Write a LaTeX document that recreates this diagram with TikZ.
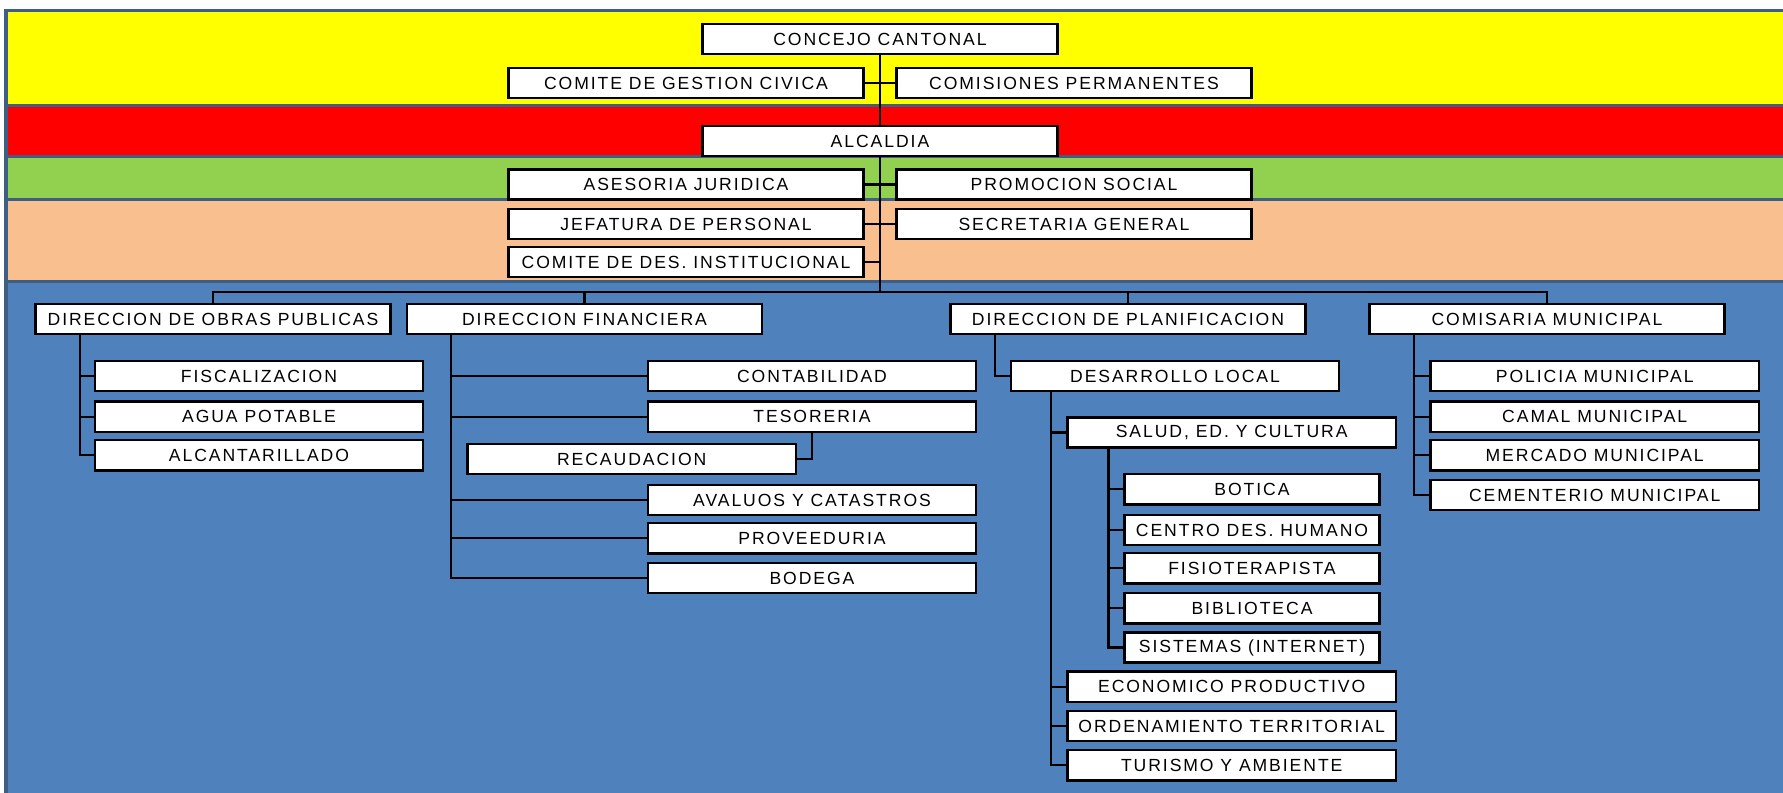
\documentclass[tikz,border=0pt]{standalone}
\usepackage{fontspec}
\setmainfont{Liberation Sans}
\newfontfamily\rotulo{Liberation Sans}[LetterSpace=11]
\usetikzlibrary{positioning}
\definecolor{amarillo}{RGB}{255,255,0}
\definecolor{rojo}{RGB}{255,0,0}
\definecolor{verde}{RGB}{146,208,80}
\definecolor{durazno}{RGB}{250,191,143}
\definecolor{azul}{RGB}{79,129,189}
\definecolor{borde}{RGB}{62,94,132}

\begin{document}
\begin{tikzpicture}[x=0.025cm,y=-0.025cm,
    unidad/.style={draw,fill=white,line width=0.06cm,minimum height=0.75cm,inner sep=0pt,
      font=\rotulo\fontsize{12.5}{14}\selectfont},
    grande/.style={minimum width=8.875cm},
    media/.style={minimum width=8.2cm},
    chica/.style={minimum width=6.375cm},
    linea/.style={line width=0.055cm},
    franja/.style={draw=borde,line width=0.075cm}]
    \useasboundingbox (0,0) rectangle (1783,793);
    % franjas de fondo
    \filldraw[franja,fill=amarillo] (6,10.5) rectangle (1790,105.7);
    \filldraw[franja,fill=rojo] (6,105.7) rectangle (1790,156.7);
    \filldraw[franja,fill=verde] (6,156.7) rectangle (1790,199.7);
    \filldraw[franja,fill=durazno] (6,199.7) rectangle (1790,281.7);
    \filldraw[franja,fill=azul] (6,281.7) rectangle (1790,800);
    % nivel superior
    \node[unidad,grande] (concejo) at (880,39) {CONCEJO CANTONAL};
    \node[unidad,grande] (gestion) at (686,83) {COMITE DE GESTION CIVICA};
    \node[unidad,grande] (comisiones) at (1074,83) {COMISIONES PERMANENTES};
    \node[unidad,grande] (alcaldia) at (880,141) {ALCALDIA};
    \node[unidad,grande] (asesoria) at (686,184.5) {ASESORIA JURIDICA};
    \node[unidad,grande] (promocion) at (1074,184.5) {PROMOCION SOCIAL};
    \node[unidad,grande] (jefatura) at (686,224) {JEFATURA DE PERSONAL};
    \node[unidad,grande] (secretaria) at (1074,224) {SECRETARIA GENERAL};
    \node[unidad,grande] (comitedes) at (686,262) {COMITE DE DES. INSTITUCIONAL};
    \coordinate (bus) at (880,292);
    \draw[linea] (concejo) -- (alcaldia);
    \draw[linea] (alcaldia.south) -- (bus);
    \draw[linea] (gestion) -- (comisiones);
    \draw[linea] (asesoria) -- (promocion);
    \draw[linea] (jefatura) -- (secretaria);
    \draw[linea] (comitedes.east) -- (comitedes.east -| bus);
    % direcciones
    \node[unidad,grande] (obras) at (213,319) {DIRECCION DE OBRAS PUBLICAS};
    \node[unidad,grande] (financiera) at (584.5,319) {DIRECCION FINANCIERA};
    \node[unidad,grande] (planificacion) at (1128,319) {DIRECCION DE PLANIFICACION};
    \node[unidad,grande] (comisaria) at (1547,319) {COMISARIA MUNICIPAL};
    \draw[linea] (obras.north) |- (bus) -| (comisaria.north);
    \draw[linea] (financiera.north) -- (financiera.north |- bus);
    \draw[linea] (planificacion.north) -- (planificacion.north |- bus);
    % obras publicas
    \node[unidad,media] (fiscalizacion) at (259,376) {FISCALIZACION};
    \node[unidad,media] (agua) at (259,416.7) {AGUA POTABLE};
    \node[unidad,media] (alcantarillado) at (259,455.3) {ALCANTARILLADO};
    \coordinate (eobras) at (80,0);
    \foreach \n in {fiscalizacion,agua,alcantarillado}
      \draw[linea] (obras.south -| eobras) |- (\n.west);
    % financiera
    \node[unidad,media] (contabilidad) at (812,376) {CONTABILIDAD};
    \node[unidad,media] (tesoreria) at (812,416.7) {TESORERIA};
    \node[unidad,media] (recaudacion) at (631.7,459) {RECAUDACION};
    \node[unidad,media] (avaluos) at (812,500) {AVALUOS Y CATASTROS};
    \node[unidad,media] (proveeduria) at (812,538.3) {PROVEEDURIA};
    \node[unidad,media] (bodega) at (812,578) {BODEGA};
    \coordinate (efin) at (451,0);
    \foreach \n in {contabilidad,tesoreria,avaluos,proveeduria,bodega}
      \draw[linea] (financiera.south -| efin) |- (\n.west);
    \draw[linea] (tesoreria.south) |- (recaudacion.east);
    % planificacion
    \node[unidad,media] (desarrollo) at (1175,376) {DESARROLLO LOCAL};
    \node[unidad,media] (salud) at (1231.7,432.5) {SALUD, ED. Y CULTURA};
    \node[unidad,chica] (botica) at (1252,489.3) {BOTICA};
    \node[unidad,chica] (centro) at (1252,530) {CENTRO DES. HUMANO};
    \node[unidad,chica] (fisio) at (1252,568.3) {FISIOTERAPISTA};
    \node[unidad,chica] (biblioteca) at (1252,608.3) {BIBLIOTECA};
    \node[unidad,chica] (sistemas) at (1252,647.5) {SISTEMAS (INTERNET)};
    \node[unidad,media] (economico) at (1231.7,686.7) {ECONOMICO PRODUCTIVO};
    \node[unidad,media] (ordenamiento) at (1231.7,726) {ORDENAMIENTO TERRITORIAL};
    \node[unidad,media] (turismo) at (1231.7,765.3) {TURISMO Y AMBIENTE};
    \coordinate (eplan) at (994.6,0);
    \coordinate (edes) at (1051,0);
    \coordinate (esal) at (1108.4,0);
    \draw[linea] (planificacion.south -| eplan) |- (desarrollo.west);
    \foreach \n in {salud,economico,ordenamiento,turismo}
      \draw[linea] (desarrollo.south -| edes) |- (\n.west);
    \foreach \n in {botica,centro,fisio,biblioteca,sistemas}
      \draw[linea] (salud.south -| esal) |- (\n.west);
    % comisaria
    \node[unidad,media] (policia) at (1594.7,376) {POLICIA MUNICIPAL};
    \node[unidad,media] (camal) at (1594.7,416.7) {CAMAL MUNICIPAL};
    \node[unidad,media] (mercado) at (1594.7,455.3) {MERCADO MUNICIPAL};
    \node[unidad,media] (cementerio) at (1594.7,495) {CEMENTERIO MUNICIPAL};
    \coordinate (ecom) at (1414,0);
    \foreach \n in {policia,camal,mercado,cementerio}
      \draw[linea] (comisaria.south -| ecom) |- (\n.west);
\end{tikzpicture}
\end{document}
